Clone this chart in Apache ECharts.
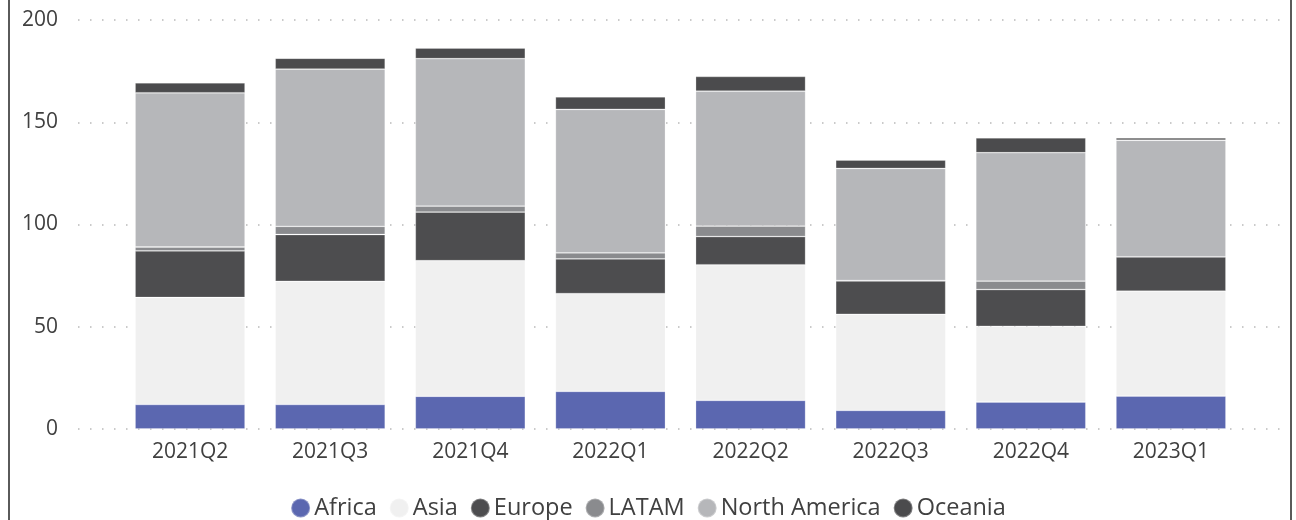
<!DOCTYPE html>
<html>
<head>
<meta charset="utf-8">
<script src="https://cdn.jsdelivr.net/npm/echarts@6/dist/echarts.min.js"></script>
<style>
html,body{margin:0;padding:0;background:#fff;}
#chart{width:1296px;height:520px;}
</style>
</head>
<body>
<div id="chart"></div>
<script>
const categories = ['2021Q2','2021Q3','2021Q4','2022Q1','2022Q2','2022Q3','2022Q4','2023Q1'];
const africa       = [12.0, 12.0, 16.0, 18.4, 14.0,  9.1, 13.2, 16.1];
const asia         = [52.3, 60.2, 66.3, 47.8, 66.3, 47.0, 37.0, 51.3];
const europe       = [22.8, 22.9, 23.8, 17.0, 13.8, 16.3, 18.0, 16.8];
const latam        = [ 1.9,  4.0,  2.9,  2.9,  5.1,  0.2,  4.1,  0.0];
const northAmerica = [75.4, 76.9, 72.1, 70.2, 66.0, 54.8, 62.8, 57.0];
const oceania      = [ 4.9,  5.3,  5.2,  6.1,  7.2,  4.1,  7.3,  1.2];
const yTicks = [0, 50, 100, 150, 200];

const seriesDefs = [
  {name:'Africa', data:africa, color:'#5b67b0'},
  {name:'Asia', data:asia, color:'#f0f0f0'},
  {name:'Europe', data:europe, color:'#4d4d4f'},
  {name:'LATAM', data:latam, color:'#8a8b8e'},
  {name:'North America', data:northAmerica, color:'#b6b7ba'},
  {name:'Oceania', data:oceania, color:'#4b4b4d'}
];

const font = '"Open Sans", sans-serif';
const textColor = '#404040';

const chart = echarts.init(document.getElementById('chart'), null, {renderer:'canvas'});
chart.setOption({
  animation:false,
  backgroundColor:'#fff',
  textStyle:{fontFamily:font},
  grid:[
    {left:78, right:12, top:20, bottom:91},
    {left:120, right:55, top:20, bottom:91}
  ],
  xAxis:[
    {gridIndex:0, type:'value', show:false, min:0, max:1},
    {gridIndex:1, type:'category', data:categories,
     axisLine:{show:false}, axisTick:{show:false},
     axisLabel:{color:textColor, fontSize:21, margin:13, fontFamily:font}}
  ],
  yAxis:[
    {gridIndex:0, type:'value', min:yTicks[0], max:yTicks[yTicks.length-1], interval:50,
     axisLine:{show:false}, axisTick:{show:false},
     axisLabel:{color:textColor, fontSize:21, margin:20, fontFamily:font},
     splitLine:{show:true, lineStyle:{color:'#cacaca', width:2, type:[1.5,10.5]}}},
    {gridIndex:1, type:'value', min:0, max:200, interval:50, show:false,
     splitLine:{show:false}}
  ],
  legend:{
    top:491, left:'center',
    icon:'circle', itemWidth:19, itemHeight:19, itemGap:12,
    textStyle:{color:textColor, fontSize:23.5, fontFamily:font, padding:[0,0,0,-1]},
    data:seriesDefs.map(s=>s.name)
  },
  graphic:[
    {type:'line', shape:{x1:9, y1:0, x2:9, y2:520}, style:{stroke:'#5a5a5a', lineWidth:2}, silent:true},
    {type:'line', shape:{x1:1291, y1:0, x2:1291, y2:520}, style:{stroke:'#5a5a5a', lineWidth:2}, silent:true}
  ],
  series:seriesDefs.map(s=>({
    name:s.name, type:'bar', stack:'total', xAxisIndex:1, yAxisIndex:1,
    data:s.data, barWidth:110,
    itemStyle:{color:s.color, borderColor:'rgba(255,255,255,0.3)', borderWidth:0.8}
  }))
});
</script>
</body>
</html>
